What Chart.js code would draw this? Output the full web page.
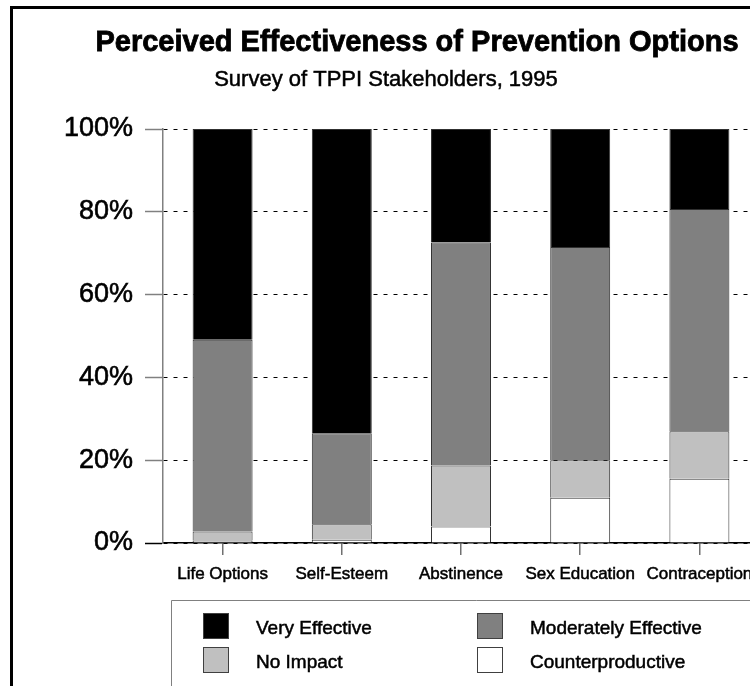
<!DOCTYPE html>
<html>
<head>
<meta charset="utf-8">
<script src="https://cdn.jsdelivr.net/npm/chart.js@4/dist/chart.umd.min.js"></script>
<style>
  html, body { margin: 0; padding: 0; background: #fff; overflow: hidden; width: 750px; height: 686px; }
  #wrap { position: relative; width: 780px; height: 686px; }
</style>
</head>
<body>
<div id="wrap"><canvas id="c" width="780" height="686"></canvas></div>
<script>
// Survey responses, percent of stakeholders per prevention option
const categories = ['Life Options', 'Self-Esteem', 'Abstinence', 'Sex Education', 'Contraception'];
const counterproductive   = [0.6, 0.8, 4.0, 10.9, 15.5];
const noImpact            = [2.2, 3.7, 14.7, 9.1, 11.5];
const moderatelyEffective = [46.3, 22.0, 53.9, 51.5, 53.7];
const veryEffective       = [50.9, 73.5, 27.4, 28.5, 19.3];
const yTicks = [0, 20, 40, 60, 80, 100];

const titleText = 'Perceived Effectiveness of Prevention Options';
const subtitleText = 'Survey of TPPI Stakeholders, 1995';

const FONT = '"Liberation Sans", Arial, Helvetica, sans-serif';

// Text helper: fill plus a hairline stroke for a heavier look
function heavyText(ctx, text, x, y, stroke) {
  ctx.fillText(text, x, y);
  if (stroke > 0) {
    ctx.lineWidth = stroke;
    ctx.strokeStyle = ctx.fillStyle;
    ctx.strokeText(text, x, y);
  }
}

// White page with the heavy frame line along the top and left
const framePlugin = {
  id: 'frame',
  beforeDraw(chart) {
    const ctx = chart.ctx;
    ctx.save();
    ctx.fillStyle = '#fff';
    ctx.fillRect(0, 0, chart.width, chart.height);
    ctx.strokeStyle = '#000';
    ctx.lineWidth = 3;
    ctx.beginPath();
    ctx.moveTo(11.5, chart.height + 5);
    ctx.lineTo(11.5, 7.5);
    ctx.lineTo(chart.width + 5, 7.5);
    ctx.stroke();
    ctx.restore();
  }
};

// Heading lines above the plot
const headingPlugin = {
  id: 'heading',
  afterDraw(chart) {
    const ctx = chart.ctx;
    ctx.save();
    ctx.fillStyle = '#000';
    ctx.textAlign = 'center';
    ctx.textBaseline = 'alphabetic';
    ctx.font = 'bold 29px ' + FONT;
    heavyText(ctx, titleText, 417, 51, 0.8);
    ctx.font = '22px ' + FONT;
    heavyText(ctx, subtitleText, 386, 86, 0.5);
    ctx.restore();
  }
};

// Two-column boxed key below the category labels
const legendOrder = [3, 2, 1, 0];
const keyPlugin = {
  id: 'key',
  afterDraw(chart) {
    const ctx = chart.ctx;
    const ds = chart.data.datasets;
    ctx.save();
    ctx.strokeStyle = '#808080';
    ctx.lineWidth = 1;
    ctx.beginPath();
    ctx.moveTo(171.5, chart.height + 5);
    ctx.lineTo(171.5, 600.5);
    ctx.lineTo(chart.width + 5, 600.5);
    ctx.stroke();

    const colX = [203, 477];
    const rowY = [613, 647];
    ctx.textBaseline = 'alphabetic';
    ctx.textAlign = 'left';
    legendOrder.forEach((di, i) => {
      const x = colX[i % 2];
      const y = rowY[Math.floor(i / 2)];
      ctx.fillStyle = ds[di].backgroundColor;
      ctx.fillRect(x, y, 26, 26);
      ctx.strokeStyle = '#404040';
      ctx.lineWidth = 1;
      ctx.strokeRect(x + 0.5, y + 0.5, 25, 25);
      ctx.fillStyle = '#000';
      ctx.font = '19px ' + FONT;
      heavyText(ctx, ds[di].label, x + 53, y + 21, 0.5);
    });
    ctx.restore();
  }
};

const segBorder = '#303030';

new Chart(document.getElementById('c'), {
  type: 'bar',
  data: {
    labels: categories,
    datasets: [
      { label: 'Counterproductive', data: counterproductive, backgroundColor: '#ffffff' },
      { label: 'No Impact', data: noImpact, backgroundColor: '#c0c0c0' },
      { label: 'Moderately Effective', data: moderatelyEffective, backgroundColor: '#808080' },
      { label: 'Very Effective', data: veryEffective, backgroundColor: '#000000' }
    ].map(d => Object.assign(d, {
      borderColor: segBorder,
      borderWidth: 1,
      borderSkipped: 'start',
      categoryPercentage: 1,
      barPercentage: 0.503
    }))
  },
  options: {
    responsive: false,
    devicePixelRatio: 1,
    animation: false,
    events: [],
    layout: { padding: { top: 129, right: 21, bottom: 0, left: 0 } },
    plugins: {
      legend: { display: false },
      title: { display: false },
      tooltip: { enabled: false }
    },
    scales: {
      x: {
        stacked: true,
        offset: true,
        grid: {
          display: true,
          drawOnChartArea: false,
          drawTicks: true,
          tickLength: 12,
          offset: false,
          color: '#707070',
          lineWidth: 1.5
        },
        border: { display: true, color: '#000', width: 1.5 },
        ticks: {
          color: '#000',
          font: { family: FONT, size: 17 },
          padding: 9,
          maxRotation: 0,
          autoSkip: false,
          textStrokeColor: '#000',
          textStrokeWidth: 0.5
        },
        afterFit(scale) { scale.height = 686 - 543; }
      },
      y: {
        stacked: true,
        min: 0,
        max: 100,
        afterBuildTicks(scale) { scale.ticks = yTicks.map(v => ({ value: v })); },
        ticks: {
          color: '#000',
          font: { family: FONT, size: 27 },
          padding: 12,
          callback: v => v + '%',
          textStrokeColor: '#000',
          textStrokeWidth: 0.6
        },
        grid: {
          color: '#000',
          lineWidth: 1,
          drawTicks: true,
          tickLength: 18,
          tickWidth: 1.5,
          tickColor: ctx => (ctx.tick && ctx.tick.value === 0) ? '#000' : '#808080',
          tickBorderDash: []
        },
        border: { display: true, color: '#808080', width: 1.5, dash: [4, 6] },
        afterFit(scale) { scale.width = 163; }
      }
    }
  },
  plugins: [framePlugin, headingPlugin, keyPlugin]
});
</script>
</body>
</html>
